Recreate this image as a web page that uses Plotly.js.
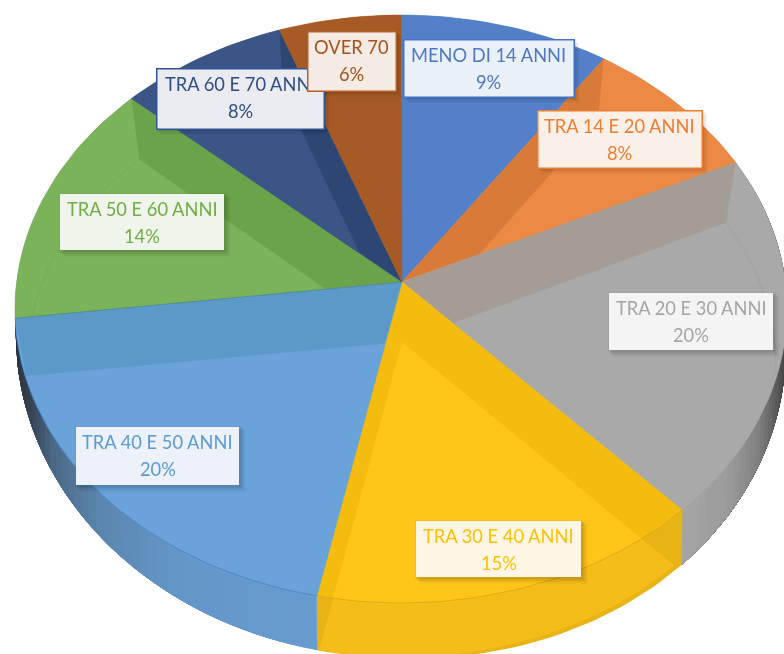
<!DOCTYPE html>
<html>
<head>
<meta charset="utf-8">
<script src="https://cdn.plot.ly/plotly-3.0.1.min.js"></script>
<style>html,body{margin:0;padding:0;background:#fff}#chart{width:784px;height:654px;filter:blur(0.6px)}</style>
</head>
<body>
<div id="chart"></div>
<script>
// ---- data ----
const categories = ["MENO DI 14 ANNI","TRA 14 E 20 ANNI","TRA 20 E 30 ANNI","TRA 30 E 40 ANNI","TRA 40 E 50 ANNI","TRA 50 E 60 ANNI","TRA 60 E 70 ANNI","OVER 70"];
const percentLabels = [9,8,20,15,20,14,8,6];
const drawnShares = [8.8,7.9,20.3,16.5,21.0,13.2,7.2,5.1];   // slice sizes as drawn in the tilted picture

// ---- styles ----
const lightColors = ["#5380c8","#ec8944","#a9a9a9","#ffc619","#6aa2da","#7bb35a","#3b5686","#a65a25"];
const bandColors  = ["#5380c8","#d97b38","#a59c95","#f3bc0f","#5b9ac8","#6ba34a","#2d4673","#a65a25"];
const textColors  = ["#4f77c4","#ed7d31","#a5a5a5","#ffc000","#5b9bd5","#70ad47","#2f4e85","#a5521c"];
const boxFill     = ["#eaf0f8","#fbf0e8","#f4f4f4","#fff6e6","#edf2fa","#eff5ea","#eaecf1","#f5ebe5"];
const boxBorder   = ["#4472c4","#ed7d31",null,null,null,null,"#2f5597","#b5622a"];
const boxes = [[404,573,40,96],[538,701,111,167],[609,773,293,350],[416,581,521,577],[76,239,427,485],[60,224,194,250],[157,323,69,128],[308,395,32,90]];

// ---- tilted pie geometry ----
const apex = [402,282], apexLow = [402,342];
const topE = {cx:401,cy:309,rx:386,ry:294,skew:0};
const lowE = {cx:401,cy:367,rx:375,ry:290,skew:0};
const botE = {cx:401,cy:335,rx:385,ry:323,skew:12};
const pt = (e,d)=>{const r=d*Math.PI/180,s=Math.sin(r);return [e.cx+e.rx*s,e.cy-e.ry*Math.cos(r)+e.skew*Math.max(0,s)];};
const arc = (e,a,b)=>{const n=Math.max(2,Math.ceil(Math.abs(b-a)/1.5));const o=[];for(let i=0;i<=n;i++)o.push(pt(e,a+(b-a)*i/n));return o;};
const total = drawnShares.reduce((a,b)=>a+b,0);
let cum=0; const angles = drawnShares.map(v=>{const s=cum/total*360;cum+=v;return [s,cum/total*360];});

const traces=[];
function poly(points,color,lw){
  const xs=points.map(p=>p[0]),ys=points.map(p=>p[1]);
  xs.push(xs[0]);ys.push(ys[0]);
  traces.push({type:"scatter",mode:"lines",x:xs,y:ys,fill:"toself",fillcolor:color,
    line:{color:color,width:lw===undefined?0.5:lw},hoverinfo:"skip",showlegend:false});
}
function line(points,color,w){
  traces.push({type:"scatter",mode:"lines",x:points.map(p=>p[0]),y:points.map(p=>p[1]),
    line:{color:color,width:w},hoverinfo:"skip",showlegend:false});
}
// convex clip
function clip(subject,clipPoly){
  let area=0;for(let i=0;i<clipPoly.length;i++){const a=clipPoly[i],b=clipPoly[(i+1)%clipPoly.length];area+=a[0]*b[1]-b[0]*a[1];}
  const s=area>0?1:-1;
  let out=subject;
  for(let i=0;i<clipPoly.length;i++){
    const a=clipPoly[i],b=clipPoly[(i+1)%clipPoly.length];
    const side=p=>s*((b[0]-a[0])*(p[1]-a[1])-(b[1]-a[1])*(p[0]-a[0]));
    const inp=out;out=[];
    for(let j=0;j<inp.length;j++){
      const p=inp[j],q=inp[(j+1)%inp.length],sp=side(p),sq=side(q);
      if(sp>=0)out.push(p);
      if((sp>=0)!==(sq>=0)){const t=sp/(sp-sq);out.push([p[0]+(q[0]-p[0])*t,p[1]+(q[1]-p[1])*t]);}
    }
    if(!out.length)break;
  }
  return out;
}
function mix(stops,t){
  for(let i=1;i<stops.length;i++){
    if(t<=stops[i][0]){
      const a=stops[i-1],b=stops[i],f=(t-a[0])/(b[0]-a[0]);
      const c=[0,1,2].map(k=>Math.round(a[1][k]+(b[1][k]-a[1][k])*f));
      return "rgb("+c.join(",")+")";
    }
  }
  const l=stops[stops.length-1][1];return "rgb("+l.join(",")+")";
}
function wall(a,b,stops,n){
  // painted in order, each strip reaching to the far end, so no seams show
  for(let i=0;i<n;i++){
    const s=a+(b-a)*i/n;
    poly(arc(topE,s,b).concat(arc(botE,b,s)),mix(stops,(i+.5)/n),0);
  }
}
// side walls, from the gray slice to the blue one
wall(angles[2][0],angles[2][1],[[0,[60,60,60]],[0.5,[70,70,70]],[0.6,[92,92,92]],[0.72,[130,130,130]],[0.85,[155,155,155]],[1,[165,165,165]]],40);
wall(angles[3][0],angles[3][1],[[0,[240,188,20]],[1,[240,188,20]]],1);
wall(angles[4][0],angles[4][1],[[0,[104,155,208]],[0.3,[100,150,200]],[0.52,[90,132,172]],[0.68,[75,105,135]],[0.8,[55,68,85]],[1,[40,45,55]]],40);

// slice faces
angles.forEach((a,i)=>{
  const face=[apex].concat(arc(topE,a[0],a[1]));
  poly(face,bandColors[i]);
  const light=[apexLow].concat([pt(lowE,a[0])],arc(topE,a[0],a[1]),[pt(lowE,a[1])]);
  if(i===3){
    poly([apexLow].concat(arc(lowE,a[0],a[1])),lightColors[i],0);
  }else{
    const c=clip(light,face);
    if(c.length>2)poly(c,lightColors[i],0);
  }
});
// yellow wall seen through the slice
const yA=angles[3];
poly(arc(topE,yA[0],yA[1]).concat(arc(botE,yA[1],yA[0])),"rgba(190,145,30,0.16)",0);
line(arc(topE,yA[0],yA[1]),"rgba(170,130,10,0.45)",0.8);
// faint inner rims
[2,5].forEach(i=>{
  const face=[apex].concat(arc(topE,angles[i][0],angles[i][1]));
  const rim=arc(lowE,angles[i][0],angles[i][1]).filter(p=>clip([p,[p[0]+.01,p[1]],[p[0],p[1]+.01]],face).length>0);
  line(rim,"rgba(0,0,0,0.07)",0.8);
});
line(arc(topE,angles[4][0],angles[4][1]),"rgba(60,120,190,0.7)",0.8);
line([apex,pt(topE,angles[4][1])],"rgba(50,115,190,0.7)",0.8);

// label shadows
const shapes=[];
boxes.forEach(b=>{
  [[7,.02],[6,.025],[5,.03],[4,.035],[3,.04],[2,.045]].forEach(s=>{
    shapes.push({type:"rect",layer:"above",xref:"x",yref:"y",x0:b[0]+s[0]-3,x1:b[1]+s[0],y0:b[2]+s[0]-3,y1:b[3]+s[0],
      fillcolor:"rgba(0,0,0,"+s[1]+")",line:{width:0}});
  });
});

// labels
const annotations=[];
const FONT="Lato, 'Open Sans', sans-serif";
categories.forEach((c,i)=>{
  const b=boxes[i],cx=(b[0]+b[1])/2,w=b[1]-b[0],h=b[3]-b[2],cy=(b[2]+b[3])/2;
  const base={xref:"x",yref:"y",showarrow:false,xanchor:"center",yanchor:"middle",captureevents:false};
  annotations.push(Object.assign({},base,{x:cx,y:cy,text:" ",width:w,height:h,bgcolor:boxFill[i],borderpad:0,
    bordercolor:boxBorder[i]||boxFill[i],borderwidth:boxBorder[i]?1.5:0,font:{size:12}}));
  annotations.push(Object.assign({},base,{x:cx,y:b[2]+15,text:c,font:{family:FONT,size:18.3,color:textColors[i]}}));
  annotations.push(Object.assign({},base,{x:cx,y:b[2]+42,text:percentLabels[i]+"%",font:{family:FONT,size:18.3,color:textColors[i]}}));
});

Plotly.newPlot("chart",traces,{
  width:784,height:654,margin:{l:0,r:0,t:0,b:0},
  paper_bgcolor:"#fff",plot_bgcolor:"#fff",showlegend:false,
  xaxis:{range:[0,784],visible:false,fixedrange:true},
  yaxis:{range:[654,0],visible:false,fixedrange:true},
  shapes:shapes,annotations:annotations,hovermode:false
},{displayModeBar:false,staticPlot:true});
</script>
</body>
</html>
